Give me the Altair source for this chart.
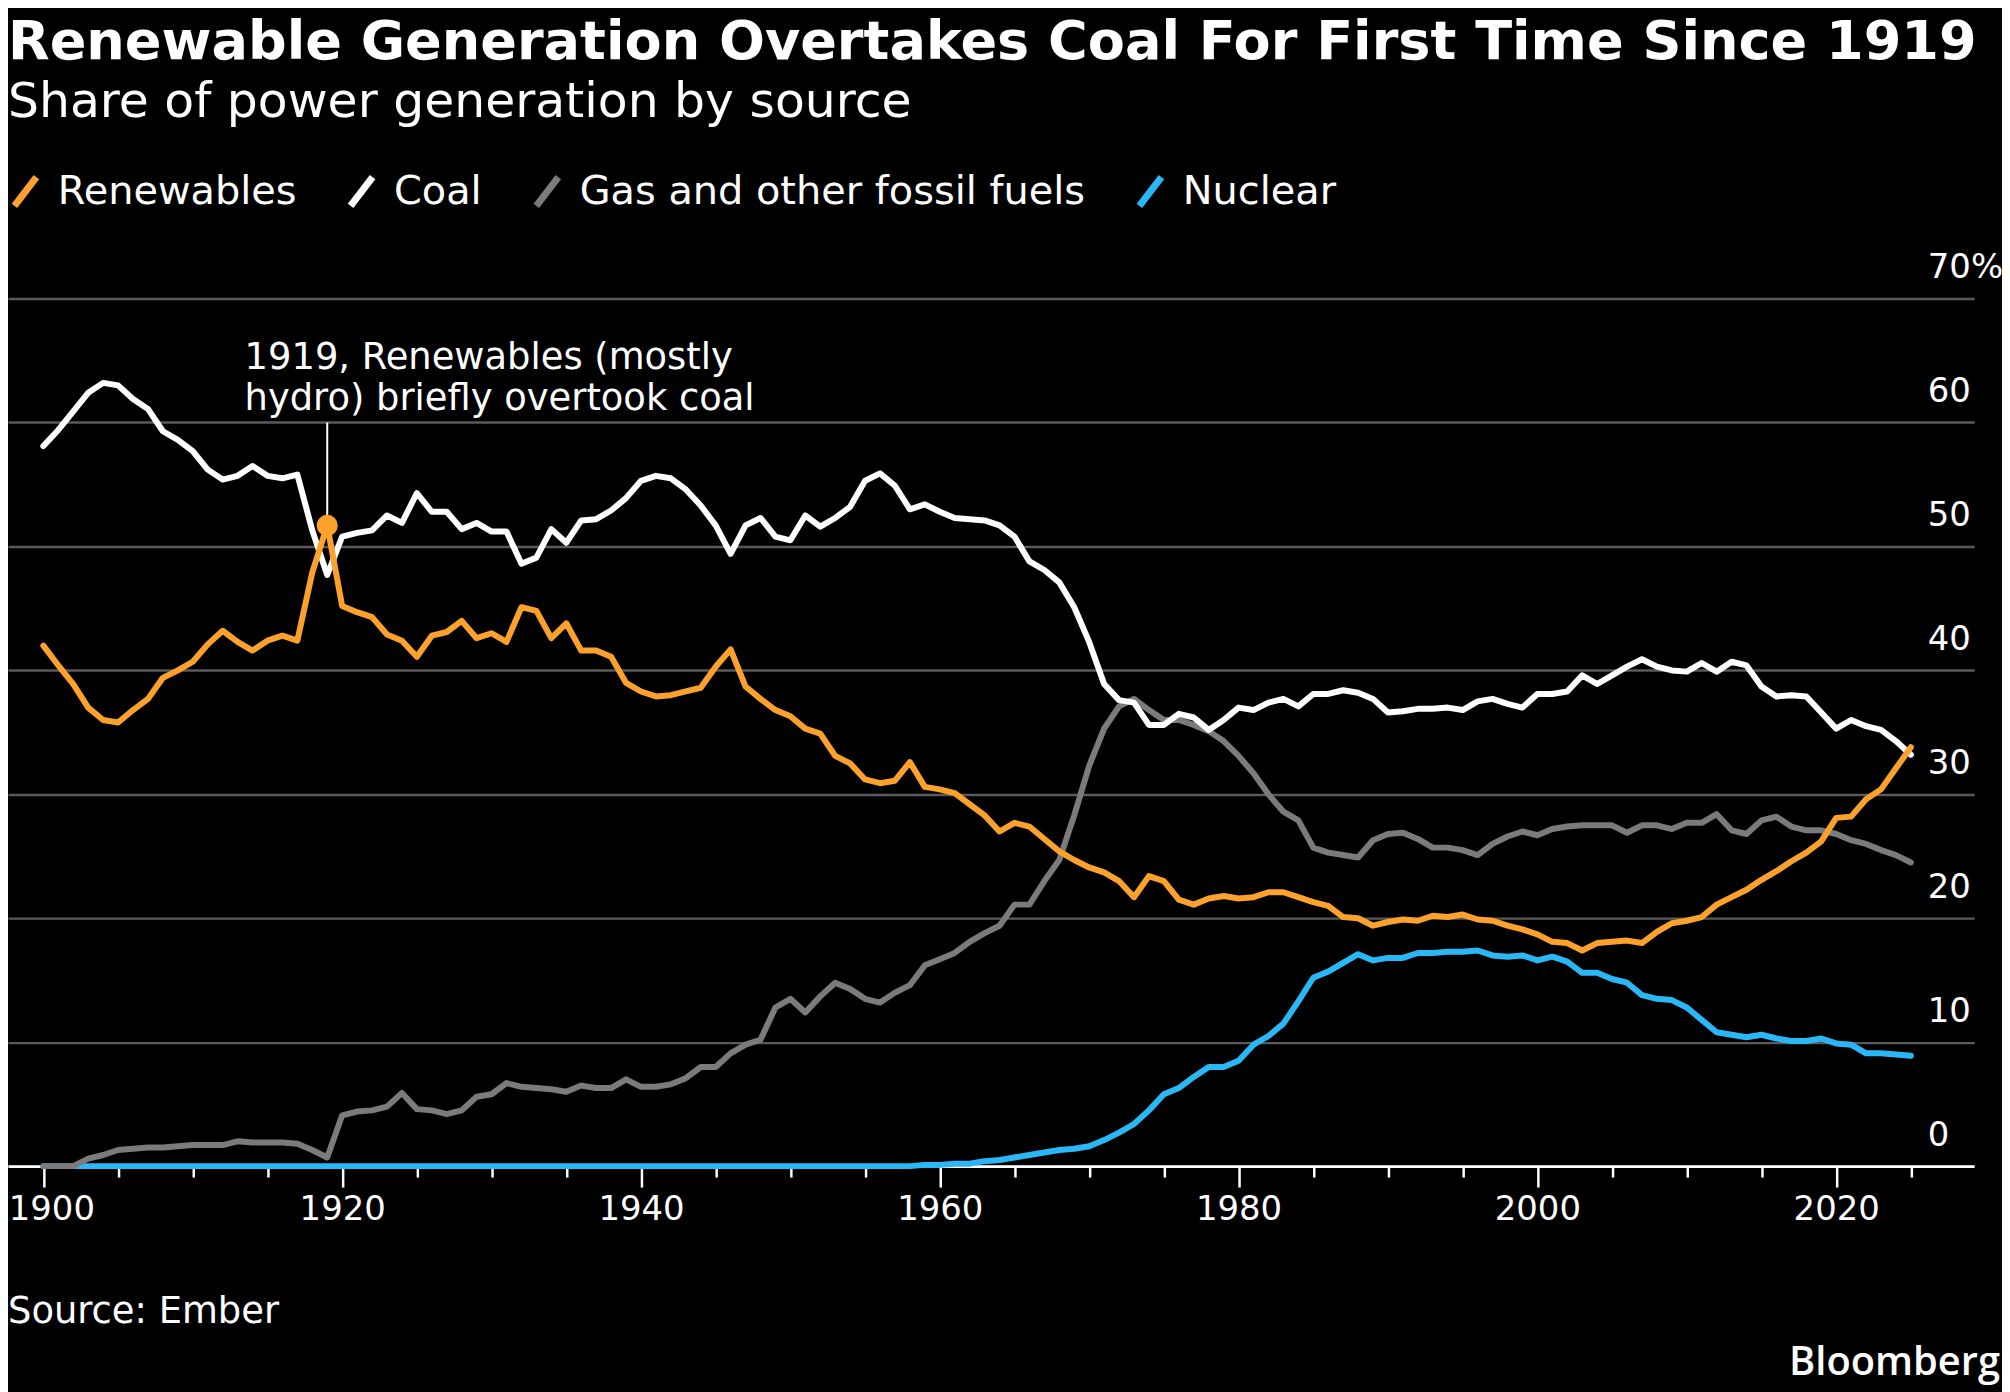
import altair as alt
import pandas as pd

years = list(range(1900, 2026))

coal = [
    58.1, 59.4, 60.9, 62.4, 63.2, 63.0, 61.9, 61.1, 59.3, 58.6,
    57.7, 56.2, 55.4, 55.7, 56.5, 55.7, 55.5, 55.8, 51.3, 47.7,
    50.8, 51.1, 51.3, 52.5, 51.9, 54.3, 52.8, 52.8, 51.4, 51.9,
    51.2, 51.2, 48.6, 49.1, 51.4, 50.3, 52.1, 52.2, 52.9, 53.9,
    55.3, 55.7, 55.5, 54.6, 53.3, 51.7, 49.4, 51.7, 52.3, 50.8,
    50.5, 52.5, 51.6, 52.3, 53.2, 55.3, 55.9, 54.9, 53.0, 53.4,
    52.8, 52.3, 52.2, 52.1, 51.7, 50.8, 48.8, 48.1, 47.1, 45.1,
    42.3, 38.9, 37.6, 37.4, 35.6, 35.6, 36.5, 36.2, 35.2, 36.0,
    37.0, 36.8, 37.4, 37.7, 37.1, 38.1, 38.1, 38.4, 38.2, 37.7,
    36.6, 36.7, 36.9, 36.9, 37.0, 36.8, 37.5, 37.7, 37.3, 37.0,
    38.1, 38.1, 38.3, 39.6, 38.9, 39.6, 40.3, 40.9, 40.3, 40.0,
    39.9, 40.6, 39.9, 40.7, 40.4, 38.7, 37.9, 38.0, 37.9, 36.6,
    35.3, 36.0, 35.5, 35.2, 34.3, 33.2,
]

renewables = [
    42.0, 40.4, 38.9, 37.0, 36.0, 35.8, 36.8, 37.7, 39.4, 40.0,
    40.7, 42.1, 43.2, 42.3, 41.6, 42.4, 42.8, 42.4, 47.9, 51.7,
    45.2, 44.7, 44.3, 42.9, 42.4, 41.1, 42.8, 43.1, 44.0, 42.6,
    43.0, 42.3, 45.1, 44.8, 42.6, 43.8, 41.6, 41.6, 41.1, 39.0,
    38.3, 37.9, 38.0, 38.3, 38.6, 40.3, 41.7, 38.7, 37.7, 36.8,
    36.3, 35.3, 34.9, 33.1, 32.5, 31.2, 30.9, 31.1, 32.6, 30.6,
    30.4, 30.1, 29.2, 28.3, 27.0, 27.7, 27.4, 26.4, 25.4, 24.7,
    24.1, 23.7, 23.0, 21.7, 23.4, 23.0, 21.5, 21.1, 21.6, 21.8,
    21.6, 21.7, 22.1, 22.1, 21.7, 21.3, 21.0, 20.1, 20.0, 19.4,
    19.7, 19.9, 19.8, 20.2, 20.1, 20.3, 19.9, 19.8, 19.4, 19.1,
    18.7, 18.1, 18.0, 17.4, 18.0, 18.1, 18.2, 18.0, 18.9, 19.6,
    19.8, 20.1, 21.1, 21.7, 22.3, 23.1, 23.8, 24.6, 25.3, 26.2,
    28.1, 28.2, 29.6, 30.4, 32.1, 33.8,
]

gas = [
    0.0, 0.0, 0.0, 0.6, 0.9, 1.3, 1.4, 1.5, 1.5, 1.6,
    1.7, 1.7, 1.7, 2.0, 1.9, 1.9, 1.9, 1.8, 1.3, 0.7,
    4.1, 4.4, 4.5, 4.8, 5.9, 4.6, 4.5, 4.2, 4.5, 5.6,
    5.8, 6.7, 6.4, 6.3, 6.2, 6.0, 6.5, 6.3, 6.3, 7.0,
    6.4, 6.4, 6.6, 7.1, 8.0, 8.0, 9.1, 9.8, 10.2, 12.8,
    13.5, 12.4, 13.7, 14.8, 14.3, 13.5, 13.2, 14.0, 14.6, 16.2,
    16.7, 17.2, 18.1, 18.8, 19.4, 21.1, 21.1, 23.0, 24.7, 28.3,
    32.3, 35.3, 37.1, 37.7, 36.8, 36.0, 36.0, 35.6, 35.1, 34.3,
    33.1, 31.7, 30.0, 28.6, 27.9, 25.7, 25.3, 25.1, 24.9, 26.3,
    26.8, 26.9, 26.4, 25.7, 25.7, 25.5, 25.1, 26.0, 26.6, 27.0,
    26.7, 27.2, 27.4, 27.5, 27.5, 27.5, 26.9, 27.5, 27.5, 27.2,
    27.7, 27.7, 28.4, 27.1, 26.8, 27.9, 28.2, 27.4, 27.1, 27.1,
    26.8, 26.3, 26.0, 25.5, 25.1, 24.5,
]

nuclear = [0.0] * 59 + [
    0.1, 0.1, 0.2, 0.2, 0.4, 0.5, 0.7, 0.9, 1.1, 1.3, 1.4,
    1.6, 2.1, 2.7, 3.4, 4.5, 5.8, 6.3, 7.2, 8.0, 8.0,
    8.5, 9.8, 10.5, 11.5, 13.3, 15.2, 15.7, 16.4, 17.1, 16.6,
    16.8, 16.8, 17.2, 17.2, 17.3, 17.3, 17.4, 17.0, 16.9, 17.0,
    16.6, 16.9, 16.5, 15.6, 15.6, 15.1, 14.8, 13.8, 13.5, 13.4,
    12.8, 11.8, 10.8, 10.6, 10.4, 10.6, 10.3, 10.1, 10.1, 10.3,
    9.9, 9.8, 9.1, 9.1, 9.0, 8.9,
]

legend_order = ["Renewables", "Coal", "Gas and other fossil fuels", "Nuclear"]
colors = ["#fca22c", "#ffffff", "#7b7b7b", "#2ab7f6"]

title_text = "Renewable Generation Overtakes Coal For First Time Since 1919"
subtitle_text = "Share of power generation by source"
source_text = "Source: Ember"
brand_text = "Bloomberg"
note_lines = ["1919, Renewables (mostly", "hydro) briefly overtook coal"]
note_year = 1919

FONT = "DejaVu Sans"

# draw order: nuclear bottom, renewables on top
series = [("Nuclear", nuclear), ("Gas and other fossil fuels", gas),
          ("Coal", coal), ("Renewables", renewables)]
rows = []
for name, vals in series:
    assert len(vals) == len(years), name
    for y, v in zip(years, vals):
        rows.append({"year": y, "value": v, "source": name})
df = pd.DataFrame(rows)

W, H = 1974, 871

x_scale = alt.Scale(domain=[1897.633, 2029.233], nice=False, zero=False)
y_scale = alt.Scale(domain=[0, 70], nice=False)

y_label_expr = ("datum.value === 70 ? '70%' : "
                "(datum.value === 0 ? '\u20070' : toString(datum.value))")

lines = alt.Chart(df).mark_line(strokeWidth=6, strokeCap="round", strokeJoin="round").encode(
    x=alt.X("year:Q", scale=x_scale, title=None,
            axis=alt.Axis(values=list(range(1900, 2026, 5)),
                          labelExpr="datum.value % 20 === 0 ? toString(datum.value) : ''",
                          grid=False, domain=True, domainColor="white", domainWidth=3,
                          ticks=True, tickColor="white", tickWidth=2.5,
                          tickSize=alt.condition("datum.value % 20 === 0", alt.value(21), alt.value(11)),
                          labelOffset=alt.condition("datum.value === 1900", alt.value(8), alt.value(0)),
                          labelColor="white", labelFontSize=34, labelFont=FONT,
                          labelPadding=6, labelFlush=False, labelOverlap=False)),
    y=alt.Y("value:Q", scale=y_scale, title=None,
            axis=alt.Axis(orient="right", values=list(range(0, 80, 10)),
                          labelExpr=y_label_expr,
                          grid=True, gridColor="#5a5a5a", gridWidth=2.5,
                          domain=False, ticks=False, tickSize=0,
                          labelAlign="left", labelBaseline="alphabetic", labelOffset=-21,
                          labelPadding=-47, labelColor="white", labelFontSize=34, labelFont=FONT,
                          labelOverlap=False, labelFlush=False, labelBound=False)),
    color=alt.Color("source:N", scale=alt.Scale(domain=legend_order, range=colors),
                    legend=alt.Legend(title=None, orient="none", direction="horizontal",
                                      legendX=-3, legendY=-128,
                                      symbolType="M-0.65,0.85L0.65,-0.85", symbolSize=1156,
                                      symbolStrokeWidth=7, labelFontSize=40, labelFont=FONT,
                                      labelColor="white", labelOffset=12, columnPadding=39.5,
                                      labelLimit=0)),
    detail="source:N",
)

note_df = pd.DataFrame({"year": [note_year],
                        "value": [renewables[years.index(note_year)]],
                        "txt": [note_lines]})

leader = alt.Chart(note_df).mark_rule(color="white", strokeWidth=2).encode(
    x=alt.X("year:Q", scale=x_scale),
    y=alt.Y("value:Q", scale=y_scale),
    y2=alt.Y2Datum(60),
)
dot = alt.Chart(note_df).mark_point(filled=True, shape="circle", size=450, opacity=1,
                                    color=colors[0]).encode(
    x=alt.X("year:Q", scale=x_scale),
    y=alt.Y("value:Q", scale=y_scale),
)
note = alt.Chart(note_df).mark_text(align="left", baseline="alphabetic", dx=-83, dy=-54,
                                    fontSize=37, font=FONT, color="white",
                                    lineHeight=41).encode(
    x=alt.X("year:Q", scale=x_scale),
    y=alt.YDatum(60, title=None),
    text="txt",
)

def label(txt, x, y, size, weight="normal", align="left", font=FONT, baseline="alphabetic"):
    return alt.Chart(pd.DataFrame({"t": [txt]})).mark_text(
        align=align, baseline=baseline, fontSize=size, fontWeight=weight, font=font,
        color="white").encode(text="t:N", x=alt.value(x), y=alt.value(y))

title = label(title_text, 0, -241, 54.3, weight="bold")
subtitle = label(subtitle_text, 0, -182, 49)
source = label(source_text, 0, 1028, 37)
brand = label(brand_text, 2000, 1081, 40, weight=600, align="right", font="Open Sans")

chart = alt.layer(lines, leader, dot, note, title, subtitle, source, brand).properties(
    width=W, height=H,
    autosize=alt.AutoSizeParams(type="none"),
    padding={"left": 0, "top": 289, "right": 28, "bottom": 224},
    background="#000000",
).configure_view(stroke=None)

chart.save("out.html", embed_options={"renderer": "svg", "actions": False})
